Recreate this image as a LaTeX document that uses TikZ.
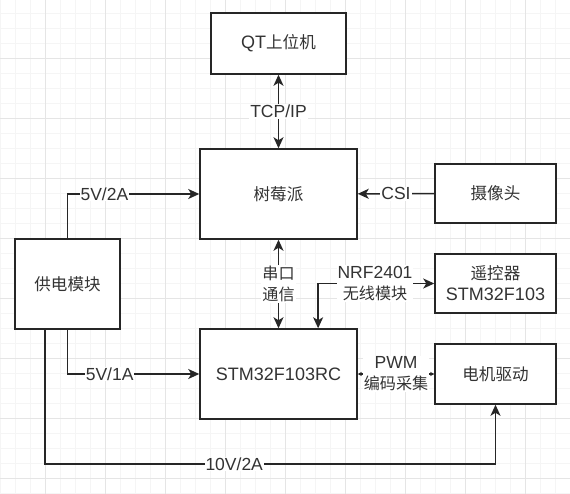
\documentclass[tikz,border=0pt]{standalone}
\usepackage{fontspec}
\setmainfont{Liberation Sans}
\newfontfamily\cjk[Scale=0.92]{Noto Sans CJK SC}
\usetikzlibrary{arrows.meta,calc}
\tikzset{
  blk/.style={draw=black!85,line width=1.5pt,fill=white,inner sep=0pt,align=center,
    text=black!80,font=\fontsize{18}{21}\selectfont},
  wire/.style={draw=black!85,line width=1.5pt},
  lbl/.style={fill=white,inner sep=1pt,align=center,text=black!80,font=\fontsize{17.5}{21}\selectfont},
  gridminor/.style={draw=black!4,line width=0.8pt},
  gridmajor/.style={draw=black!10,line width=0.8pt}
}
\begin{document}
\begin{tikzpicture}[x=1pt,y=-1pt,>={Stealth[length=11pt,width=10pt,inset=3pt]}]
\useasboundingbox[fill=white] (0,0) rectangle (570,494);
\foreach \x in {0,15,...,570} \draw[gridminor] (\x,0) -- (\x,494);
\foreach \y in {13,28,...,493} \draw[gridminor] (0,\y) -- (570,\y);
\foreach \x in {45,105,...,525} \draw[gridmajor] (\x,0) -- (\x,494);
\foreach \y in {58,118,...,478} \draw[gridmajor] (0,\y) -- (570,\y);
\node[blk,minimum width=135pt,minimum height=61pt] (qt) at (278.5,43.5) {QT{\cjk 上位机}};
\node[blk,minimum width=157pt,minimum height=90pt] (pi) at (278.5,194) {\cjk 树莓派};
\node[blk,minimum width=121pt,minimum height=59pt] (cam) at (495.5,193.5) {\cjk 摄像头};
\node[blk,minimum width=105pt,minimum height=90pt] (power) at (67.5,284) {\cjk 供电模块};
\node[blk,minimum width=157pt,minimum height=90pt] (stm) at (278.5,374) {STM32F103RC};
\node[blk,minimum width=121pt,minimum height=59pt] (remote) at (495.5,283.5) {{\cjk 遥控器}\\STM32F103};
\node[blk,minimum width=121pt,minimum height=60pt] (motor) at (495.5,374) {\cjk 电机驱动};
\coordinate (nrf) at ($(stm.north west)!0.75!(stm.north east)$);
\coordinate (gnd) at (45,464);
\draw[wire,<->] (qt) -- node[lbl]{TCP/IP} (pi);
\draw[wire,->] (cam) -- node[lbl]{CSI} (pi);
\draw[wire,->] (power) |- node[lbl,pos=0.64]{5V/2A} (pi);
\draw[wire,<->] (pi) -- node[lbl]{\cjk 串口\\\cjk 通信} (stm);
\draw[wire,<->] (nrf) |- node[lbl,pos=0.745]{NRF2401\\\cjk 无线模块} (remote);
\draw[wire,<->,>={Stealth[length=4pt,width=4pt]}] (stm) -- node[lbl]{PWM\\\cjk 编码采集} (motor);
\draw[wire,->] (power) |- node[lbl,pos=0.66]{5V/1A} (stm);
\draw[wire,->] (power.south -| gnd) -- (gnd) -| node[lbl,pos=0.21]{10V/2A} (motor);
\end{tikzpicture}
\end{document}
